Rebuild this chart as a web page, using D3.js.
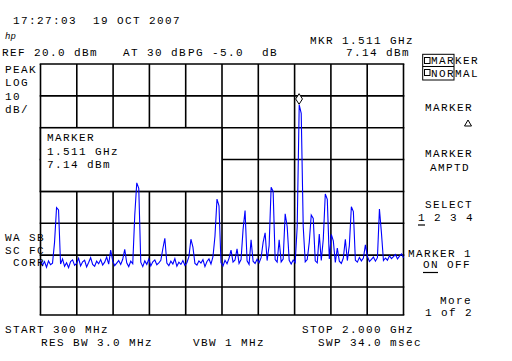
<!DOCTYPE html>
<html><head><meta charset="utf-8">
<script src="https://cdn.jsdelivr.net/npm/d3@7"></script>
<style>
html,body{margin:0;padding:0;background:#fff;}
svg{display:block;}
text{font-family:"Liberation Mono",monospace;font-size:11px;fill:#000;letter-spacing:1.4px;white-space:pre;}
</style></head><body>
<svg id="c" width="512" height="361"></svg>
<script>
// ---- data ----
const startMHz = 300, stopMHz = 2000;
const refLevel = 20, dbPerDiv = 10;
const nDivX = 10, nDivY = 8;
const markerMHz = 1511, markerDbm = 7.14;
// sweep trace (dBm), evenly spaced from START to STOP
const trace = [
 -41.5,-43.2,-42.0,-43.8,-41.8,-43.0,-42.5,-36.0,-25.1,-25.8,
 -42.8,-41.2,-43.5,-42.4,-43.9,-42.0,-41.5,-43.2,-42.6,-41.0,
 -43.4,-42.1,-41.6,-43.7,-42.3,-40.8,-42.9,-43.5,-41.9,-42.7,
 -41.4,-43.1,-42.2,-40.6,-42.8,-38.4,-41.8,-43.3,-42.5,-41.7,
 -42.9,-41.3,-38.2,-42.4,-43.6,-41.9,-42.7,-27.5,-17.3,-19.0,
 -42.2,-43.6,-41.8,-42.9,-41.2,-43.4,-42.1,-41.5,-43.0,-42.4,
 -41.6,-38.0,-34.7,-42.5,-43.3,-41.9,-42.8,-41.1,-43.5,-42.2,
 -42.9,-41.7,-43.2,-42.4,-40.5,-35.0,-37.5,-42.6,-43.1,-41.8,
 -42.5,-41.4,-43.6,-42.0,-41.2,-42.8,-40.5,-34.0,-22.4,-24.5,
 -42.3,-43.4,-41.6,-42.7,-41.0,-38.4,-42.2,-41.5,-38.0,-42.6,
 -41.4,-32.0,-26.0,-41.8,-42.9,-35.2,-41.9,-42.6,-41.3,-42.4,
 -40.8,-36.0,-33.0,-41.7,-37.0,-18.7,-20.0,-41.4,-42.2,-35.2,
 -42.1,-41.2,-27.0,-31.0,-41.6,-42.8,-41.5,-42.3,-31.0,7.14,
 4.5,-31.0,-42.1,-41.4,-36.0,-27.4,-28.5,-41.8,-42.4,-33.4,
 -41.7,-35.0,-20.8,-22.5,-41.2,-33.5,-35.5,-42.3,-37.8,-41.9,
 -42.6,-40.9,-35.0,-41.7,-37.0,-24.8,-26.3,-41.6,-42.2,-40.7,
 -41.8,-40.9,-36.8,-40.4,-42.0,-41.3,-40.6,-41.9,-40.8,-25.5,
 -33.0,-41.7,-40.9,-41.6,-40.2,-41.1,-40.5,-39.8,-41.2,-40.3,
 -39.6,-40.8
];
// annotation texts
const timeStamp = " 17:27:03  19 OCT 2007";
const refText = "REF 20.0 dBm";
const attText = "AT 30 dB";
const pgText = "PG -5.0";
const pgUnit = "dB";
const mkrFreqText = "MKR 1.511 GHz";
const mkrAmpText = "7.14 dBm";
const leftLabels = ["PEAK", "LOG", "10", "dB/"];
const leftLabels2 = ["WA SB", "SC FC", " CORR"];
const boxLabels = ["MARKER", "1.511 GHz", "7.14 dBm"];
const bottomLeft = "START 300 MHz", bottomRight = "STOP 2.000 GHz";
const bwTexts = ["RES BW 3.0 MHz", "VBW 1 MHz", "SWP 34.0 msec"];

// ---- drawing ----
const svg = d3.select("#c");
const x = d3.scaleLinear().domain([startMHz, stopMHz]).range([40.5, 403.5]);
const botDb = refLevel - dbPerDiv * nDivY;
const y = d3.scaleLinear().domain([refLevel, botDb + dbPerDiv, botDb]).range([64, 287, 315]);

const g = svg.append("g");
const xTicks = d3.range(nDivX + 1).map(k => startMHz + k * (stopMHz - startMHz) / nDivX);
const yTicks = d3.range(nDivY + 1).map(k => refLevel - k * dbPerDiv);

g.selectAll("line.v").data(xTicks).join("line")
  .attr("x1", d => x(d)).attr("x2", d => x(d))
  .attr("y1", y(refLevel)).attr("y2", y(botDb))
  .attr("stroke", "#000").attr("stroke-width", 1.6);
g.selectAll("line.h").data(yTicks).join("line")
  .attr("y1", d => y(d)).attr("y2", d => y(d))
  .attr("x1", x(startMHz) - 0.8).attr("x2", x(stopMHz) + 0.8)
  .attr("stroke", "#000").attr("stroke-width", 1.6);

// marker info box (covers grid)
const bx0 = x(startMHz), bx1 = x(xTicks[5]), by0 = y(0), by1 = y(-20);
svg.append("rect").attr("x", bx0).attr("y", by0).attr("width", bx1 - bx0).attr("height", by1 - by0)
  .attr("fill", "#fff").attr("stroke", "#000").attr("stroke-width", 1.6);
boxLabels.forEach((t, i) => svg.append("text").attr("x", 47).attr("y", 141 + i * 13.5).text(t));

// trace
const n = trace.length;
const fAt = i => startMHz + i * (stopMHz - startMHz) / (n - 1);
svg.append("path").datum(trace)
  .attr("d", d3.line().x((d, i) => x(fAt(i))).y(d => y(d)))
  .attr("fill", "none").attr("stroke", "#0000ff").attr("stroke-width", 1.1);

// marker diamond
const mx = x(markerMHz), my = y(markerDbm) - 6;
svg.append("path")
  .attr("d", `M${mx},${my - 5.3}L${mx + 3.4},${my}L${mx},${my + 5.3}L${mx - 3.4},${my}Z`)
  .attr("fill", "#fff").attr("stroke", "#000").attr("stroke-width", 1);

// header texts
const T = (s, xx, yy) => svg.append("text").attr("x", xx).attr("y", yy).text(s);
T(timeStamp, 5, 24);
svg.append("text").attr("x", 5).attr("y", 39).style("font-style", "italic").style("font-size", "9px")
  .style("letter-spacing", "0px").text("hp");
T(refText, 2, 56);
T(attText, 123, 56);
T(pgText, 188, 56);
T(pgUnit, 262, 56);
T(mkrFreqText, 310, 44);
T(mkrAmpText, 346, 56);

// left labels
leftLabels.forEach((t, i) => T(t, 5, 73 + i * 13.3));
leftLabels2.forEach((t, i) => T(t, 5, 241 + i * 12.5));

// bottom
T(bottomLeft, 5, 333);
T(bottomRight, 302, 333);
T(bwTexts[0], 41, 346);
T(bwTexts[1], 193, 346);
T(bwTexts[2], 318, 346);

// right softkey menu
svg.append("rect").attr("x", 422.7).attr("y", 54.3).attr("width", 31.3).attr("height", 25.7)
  .attr("fill", "none").attr("stroke", "#000").attr("stroke-width", 1);
svg.append("line").attr("x1", 422.7).attr("x2", 454).attr("y1", 66.5).attr("y2", 66.5)
  .attr("stroke", "#000").attr("stroke-width", 1);
[57.5, 69.5].forEach(yy => svg.append("rect").attr("x", 424.5).attr("y", yy).attr("width", 5.5).attr("height", 6)
  .attr("fill", "none").attr("stroke", "#000").attr("stroke-width", 1));
T("MARKER", 431, 64);
T("NORMAL", 431, 77);
T("MARKER", 425, 111);
svg.append("path").attr("d", "M468,120L471.5,126L464.5,126Z").attr("fill", "none").attr("stroke", "#000").attr("stroke-width", 1);
T("MARKER", 425, 157);
T("AMPTD", 430, 171);
T("SELECT", 425, 208);
T("1 2 3 4", 418, 221);
svg.append("line").attr("x1", 418).attr("x2", 425).attr("y1", 225).attr("y2", 225).attr("stroke", "#000").attr("stroke-width", 1.2);
T("MARKER 1", 408, 257);
T("ON OFF", 423, 268);
svg.append("line").attr("x1", 423).attr("x2", 438).attr("y1", 272.5).attr("y2", 272.5).attr("stroke", "#000").attr("stroke-width", 1.2);
T("More", 440, 304);
T("1 of 2", 425, 316);
</script></body></html>
